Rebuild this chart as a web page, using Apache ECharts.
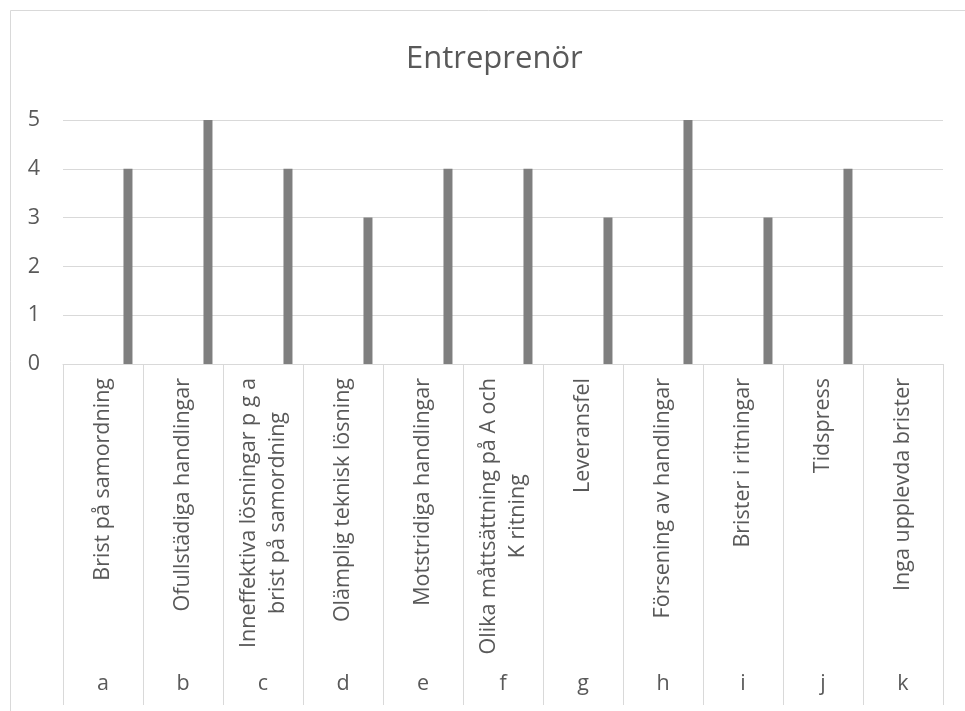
<!DOCTYPE html>
<html>
<head>
<meta charset="utf-8">
<script src="https://cdn.jsdelivr.net/npm/echarts@6/dist/echarts.min.js"></script>
<style>
html,body{margin:0;padding:0;background:#fff;}
#chart{width:965px;height:711px;}
</style>
</head>
<body>
<div id="chart"></div>
<script>
var letters = ['a','b','c','d','e','f','g','h','i','j','k'];
var descriptions = [
  'Brist på samordning',
  'Ofullstädiga handlingar',
  'Inneffektiva lösningar p g a\nbrist på samordning',
  'Olämplig teknisk lösning',
  'Motstridiga handlingar',
  'Olika måttsättning på A och\nK ritning',
  'Leveransfel',
  'Försening av handlingar',
  'Brister i ritningar',
  'Tidspress',
  'Inga upplevda brister'
];
var values = [4, 5, 4, 3, 4, 4, 3, 5, 3, 4, 0];
var emptySeries = [null, null, null, null, null, null, null, null, null, null, null];
var yTicks = [0, 1, 2, 3, 4, 5];

var FONT = '"Open Sans", "Noto Sans", sans-serif';
var TXT = '#595959';
var GRID = '#d9d9d9';
var FS = 21.5;

var chart = echarts.init(document.getElementById('chart'), null, {renderer: 'canvas'});
chart.setOption({
  animation: false,
  backgroundColor: '#fff',
  graphic: [{
    type: 'rect',
    shape: {x: 10.5, y: 10.5, width: 1000, height: 760},
    style: {fill: 'none', stroke: GRID, lineWidth: 1},
    silent: true
  }],
  title: {
    text: 'Entreprenör',
    left: 401,
    top: 39,
    textStyle: {fontFamily: FONT, fontSize: 31, fontWeight: 'normal', color: TXT}
  },
  grid: {left: 63, right: 22, top: 120, bottom: 347, containLabel: false},
  xAxis: [{
    type: 'category',
    data: descriptions,
    boundaryGap: true,
    axisLine: {show: true, lineStyle: {color: GRID, width: 1}},
    axisTick: {show: true, interval: 0, length: 341, lineStyle: {color: GRID, width: 1}},
    axisLabel: {
      interval: 0,
      rotate: 90,
      margin: 14,
      fontFamily: FONT,
      fontSize: FS,
      color: TXT,
      lineHeight: 29,
      formatter: function (v) {
        return v.split('\n').map(function (s) { return '{c|' + s + '}'; }).join('\n');
      },
      rich: {c: {align: 'center', fontFamily: FONT, fontSize: FS, color: TXT, lineHeight: 29}}
    },
    splitLine: {show: false}
  }, {
    type: 'category',
    data: letters,
    position: 'bottom',
    boundaryGap: true,
    axisLine: {show: false},
    axisTick: {show: false},
    axisLabel: {interval: 0, margin: 309, fontFamily: FONT, fontSize: FS, color: TXT},
    splitLine: {show: false}
  }],
  yAxis: {
    type: 'value',
    min: 0,
    max: 5,
    interval: 1,
    axisLine: {show: false},
    axisTick: {show: false},
    axisLabel: {
      margin: 23,
      fontFamily: FONT,
      fontSize: FS,
      color: TXT,
      formatter: function (v) { return yTicks.indexOf(v) >= 0 ? String(v) : ''; }
    },
    splitLine: {show: true, lineStyle: {color: GRID, width: 1}}
  },
  series: [{
    name: '',
    type: 'bar',
    xAxisIndex: 0,
    data: emptySeries,
    barWidth: 9,
    barGap: '455%',
    itemStyle: {color: 'transparent'},
    silent: true
  }, {
    name: 'Entreprenör',
    type: 'bar',
    xAxisIndex: 0,
    data: values,
    barWidth: 9,
    barGap: '455%',
    itemStyle: {color: '#7f7f7f'}
  }]
});
</script>
</body>
</html>
